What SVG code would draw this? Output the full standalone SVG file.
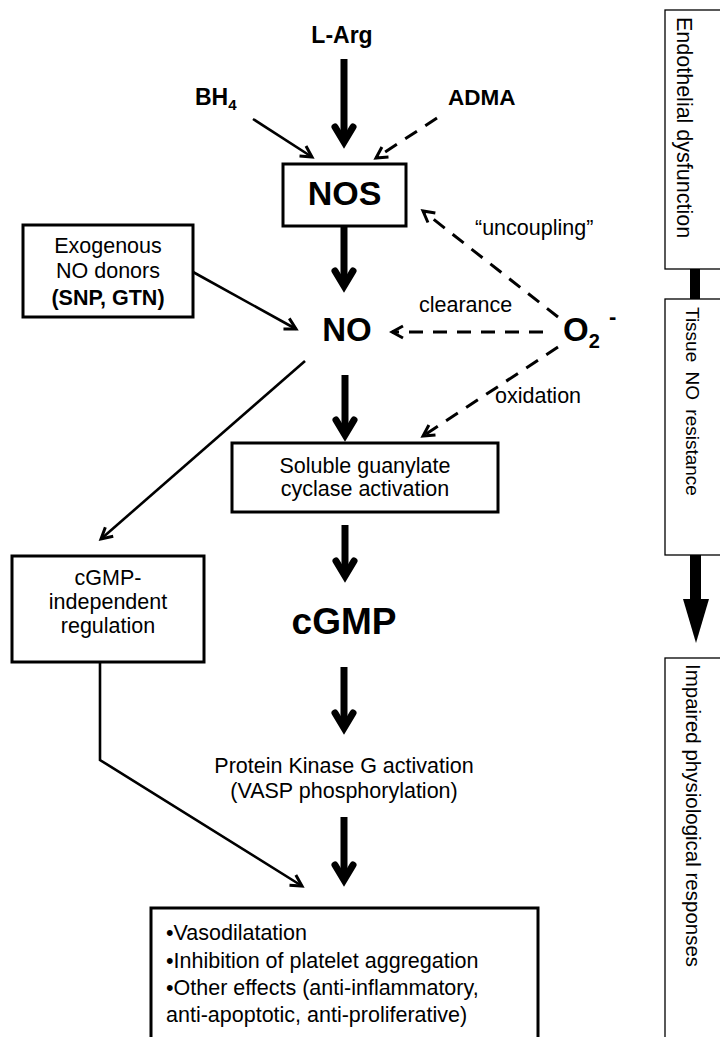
<svg xmlns="http://www.w3.org/2000/svg" width="720" height="1037" viewBox="0 0 720 1037">
<style>
.t{font-family:"Liberation Sans",Arial,sans-serif;font-size:21.5px;fill:#000}
.b{font-weight:bold}
.m{text-anchor:middle}
.box{fill:#fff;stroke:#000;stroke-width:3}
.rbox{fill:#fff;stroke:#000;stroke-width:1.3}
.shaft{stroke:#000;stroke-width:7;fill:none}
.thin{stroke:#000;stroke-width:2.6;fill:none;marker-end:url(#ah)}
.dash{stroke:#000;stroke-width:3;fill:none;stroke-dasharray:14 10;marker-end:url(#ah)}
.head{stroke:#000;stroke-width:7;fill:none;stroke-linecap:round;stroke-linejoin:miter}
</style>
<defs>
<marker id="ah" viewBox="-14 -9 17 18" refX="0" refY="0" markerWidth="17" markerHeight="18" markerUnits="userSpaceOnUse" orient="auto">
<path d="M-11,-6 L0,0 L-11,6" fill="none" stroke="#000" stroke-width="3"/>
</marker>
<path id="th" class="head" d="M-9,-22 L0,-7 L9,-22"/>
</defs>
<rect width="720" height="1037" fill="#fff"/>

<g id="connectors">
<line class="shaft" x1="344" y1="59" x2="344" y2="142"/><use href="#th" transform="translate(344,149)"/>
<line class="shaft" x1="344" y1="226" x2="344" y2="286"/><use href="#th" transform="translate(344,293)"/>
<line class="shaft" x1="345" y1="375" x2="345" y2="435"/><use href="#th" transform="translate(345,442)"/>
<line class="shaft" x1="345" y1="525" x2="345" y2="576"/><use href="#th" transform="translate(345,583)"/>
<line class="shaft" x1="344" y1="667" x2="344" y2="728"/><use href="#th" transform="translate(344,735)"/>
<line class="shaft" x1="344" y1="817" x2="344" y2="880"/><use href="#th" transform="translate(344,887)"/>
<line class="thin" x1="253" y1="119" x2="312" y2="157"/>
<line class="thin" x1="193" y1="272" x2="296" y2="329"/>
<line class="thin" x1="305" y1="361" x2="101" y2="539"/>
<polyline class="thin" points="100,662 100,760 302,886"/>
<line class="dash" x1="437" y1="118" x2="376" y2="158"/>
<line class="dash" x1="558" y1="317" x2="423" y2="211"/>
<line class="dash" x1="543" y1="332" x2="392" y2="332"/>
<line class="dash" x1="558" y1="347" x2="423" y2="436"/>
<rect x="690" y="269" width="10" height="30" fill="#000"/>
<rect x="690" y="555" width="11" height="45" fill="#000"/>
<polygon points="683,599 709,599 696,643" fill="#000"/>
</g>

<g id="larg"><text class="t b m" x="342" y="43" style="font-size:23px">L-Arg</text></g>
<g id="bh4"><text class="t b" x="195" y="105" style="font-size:23px">BH<tspan style="font-size:15px" dy="5">4</tspan></text></g>
<g id="adma"><text class="t b" x="448" y="105" style="font-size:22.5px">ADMA</text></g>
<g id="nos"><rect class="box" x="283" y="164" width="123" height="62"/><text class="t b m" x="344.5" y="205" style="font-size:34px">NOS</text></g>
<g id="exo"><rect class="box" x="23" y="225" width="170" height="92"/>
<text class="t m" x="108" y="253">Exogenous</text>
<text class="t m" x="108" y="278">NO donors</text>
<text class="t m b" x="108" y="305">(SNP, GTN)</text></g>
<g id="no"><text class="t b m" x="347" y="341" style="font-size:33px">NO</text></g>
<g id="o2"><text class="t b" x="563" y="341" style="font-size:33px">O<tspan style="font-size:20px" dy="7">2</tspan><tspan style="font-size:22px" x="609" y="324">-</tspan></text></g>
<g id="lbl-uncoupling"><text class="t" x="475" y="235">“uncoupling”</text></g>
<g id="lbl-clearance"><text class="t" x="419" y="312">clearance</text></g>
<g id="lbl-oxidation"><text class="t" x="495" y="403">oxidation</text></g>
<g id="sgc"><rect class="box" x="232" y="443" width="266" height="69"/>
<text class="t m" x="365" y="473">Soluble guanylate</text>
<text class="t m" x="365" y="496">cyclase activation</text></g>
<g id="cgmpind"><rect class="box" x="12" y="556" width="192" height="106"/>
<text class="t m" x="108" y="585">cGMP-</text>
<text class="t m" x="108" y="609">independent</text>
<text class="t m" x="108" y="633">regulation</text></g>
<g id="cgmp"><text class="t b m" x="344" y="634" style="font-size:37px">cGMP</text></g>
<g id="pkg"><text class="t m" x="344" y="773">Protein Kinase G activation</text>
<text class="t m" x="344" y="798">(VASP phosphorylation)</text></g>
<g id="effects"><rect class="box" x="151" y="908" width="387" height="140"/>
<text class="t" x="166" y="940">•Vasodilatation</text>
<text class="t" x="166" y="968">•Inhibition of platelet aggregation</text>
<text class="t" x="166" y="995">•Other effects (anti-inflammatory,</text>
<text class="t" x="166" y="1022">anti-apoptotic, anti-proliferative)</text></g>

<g id="endo"><rect class="rbox" x="665" y="10" width="60" height="259"/>
<text class="t" style="font-size:21.5px" transform="translate(677,17) rotate(90)">Endothelial dysfunction</text></g>
<g id="tissue"><rect class="rbox" x="665" y="299" width="60" height="256"/>
<text class="t" style="font-size:19px;word-spacing:4px" transform="translate(686,307) rotate(90)">Tissue NO resistance</text></g>
<g id="impaired"><rect class="rbox" x="665" y="658" width="60" height="390"/>
<text class="t" style="font-size:20.5px" transform="translate(686,664) rotate(90)">Impaired physiological responses</text></g>
</svg>
